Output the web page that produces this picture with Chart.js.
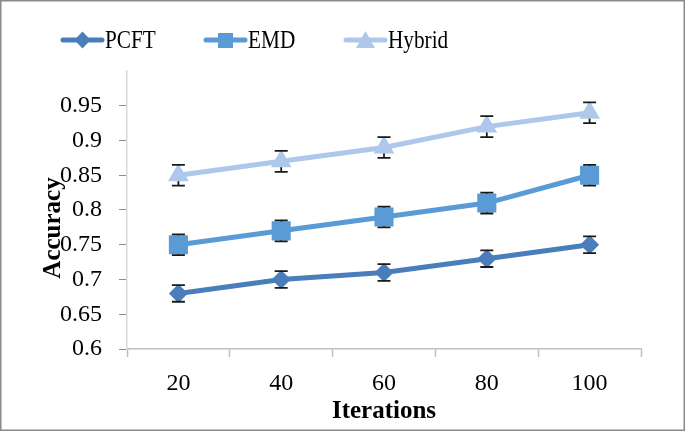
<!DOCTYPE html>
<html>
<head>
<meta charset="utf-8">
<script src="https://cdn.jsdelivr.net/npm/chart.js@4/dist/chart.umd.min.js"></script>
<style>
  html, body { margin: 0; padding: 0; background: #fff; }
  #wrap { position: relative; width: 685px; height: 431px; }
  canvas { position: absolute; left: 0; top: 0; }
  .lg { position: absolute; top: 26px; height: 28px; display: flex; align-items: center;
        font-family: "Liberation Serif", "Times New Roman", serif; font-size: 25px; color: #000; }
  .lg span { display: inline-block; transform: scaleX(0.85); transform-origin: left center; }
</style>
</head>
<body>
<div id="wrap">
  <canvas id="c" width="685" height="431"></canvas>
  <div class="lg" style="left:60px"><svg width="45" height="26"><line x1="3" y1="13" x2="42" y2="13" stroke="#4A7EBB" stroke-width="5" stroke-linecap="round"/><polygon points="22.5,4.5 30.5,13 22.5,21.5 14.5,13" fill="#4A7EBB"/></svg><span>PCFT</span></div>
  <div class="lg" style="left:203px"><svg width="45" height="26"><line x1="3" y1="13" x2="42" y2="13" stroke="#5B9BD5" stroke-width="5" stroke-linecap="round"/><rect x="15" y="6" width="15" height="15" fill="#5B9BD5"/></svg><span>EMD</span></div>
  <div class="lg" style="left:343px"><svg width="45" height="26"><line x1="3" y1="13" x2="42" y2="13" stroke="#ADC8EA" stroke-width="5" stroke-linecap="round"/><polygon points="22.5,4 32,21 13,21" fill="#ADC8EA"/></svg><span>Hybrid</span></div>
</div>
<script>
const categories = ['20', '40', '60', '80', '100'];
const pcft   = [0.68, 0.70, 0.71, 0.73, 0.75];
const emd    = [0.75, 0.77, 0.79, 0.81, 0.85];
const hybrid = [0.85, 0.87, 0.89, 0.92, 0.94];
const pcftErr   = [0.012, 0.012, 0.012, 0.012, 0.012];
const emdErr    = [0.015, 0.015, 0.015, 0.015, 0.015];
const hybridErr = [0.015, 0.015, 0.015, 0.015, 0.015];

const FONT = '"Liberation Serif", "Times New Roman", serif';

const errorBars = {
  id: 'errorBars',
  drawBars(chart, part) {
    const ctx = chart.ctx;
    const y = chart.scales.y;
    chart.data.datasets.forEach((ds, i) => {
      const meta = chart.getDatasetMeta(i);
      meta.data.forEach((pt, j) => {
        const e = ds.errors[j];
        const yt = y.getPixelForValue(ds.data[j] + e);
        const yb = y.getPixelForValue(ds.data[j] - e);
        ctx.save();
        ctx.strokeStyle = '#1a1a1a';
        ctx.lineWidth = 1.8;
        ctx.beginPath();
        if (part === 'line') {
          ctx.moveTo(pt.x, yt); ctx.lineTo(pt.x, yb);
        } else {
          ctx.moveTo(pt.x - 6.5, yt); ctx.lineTo(pt.x + 6.5, yt);
          ctx.moveTo(pt.x - 6.5, yb); ctx.lineTo(pt.x + 6.5, yb);
        }
        ctx.stroke();
        ctx.restore();
      });
    });
  },
  beforeDatasetsDraw(chart) { this.drawBars(chart, 'line'); },
  afterDatasetsDraw(chart) { this.drawBars(chart, 'cap'); }
};

const frame = {
  id: 'frame',
  beforeDraw(chart) {
    const ctx = chart.ctx;
    ctx.save();
    ctx.fillStyle = '#fff';
    ctx.fillRect(0, 0, chart.width, chart.height);
    ctx.restore();
  },
  afterDraw(chart) {
    const ctx = chart.ctx;
    const a = chart.chartArea;
    ctx.save();
    ctx.strokeStyle = '#8a8a8a';
    ctx.lineWidth = 1.5;
    ctx.strokeRect(0.75, 0.75, chart.width - 1.5, chart.height - 1.5);
    ctx.fillStyle = '#000';
    ctx.font = 'bold 25px ' + FONT;
    ctx.textAlign = 'center';
    ctx.textBaseline = 'middle';
    ctx.translate(a.left - 73, a.top + 157);
    ctx.rotate(-Math.PI / 2);
    ctx.fillText('Accuracy', 0, 0);
    ctx.restore();
  }
};

new Chart(document.getElementById('c'), {
  type: 'line',
  data: {
    labels: categories,
    datasets: [
      { label: 'PCFT', data: pcft, errors: pcftErr, borderColor: '#4A7EBB', backgroundColor: '#4A7EBB',
        borderWidth: 5, pointStyle: 'rectRot', pointRadius: 9.5, pointBorderWidth: 0, tension: 0 },
      { label: 'EMD', data: emd, errors: emdErr, borderColor: '#5B9BD5', backgroundColor: '#5B9BD5',
        borderWidth: 5, pointStyle: 'rect', pointRadius: 13.5, pointBorderWidth: 0, tension: 0 },
      { label: 'Hybrid', data: hybrid, errors: hybridErr, borderColor: '#ADC8EA', backgroundColor: '#ADC8EA',
        borderWidth: 5, pointStyle: 'triangle', pointRadius: 12, pointBorderWidth: 0, tension: 0 }
    ]
  },
  options: {
    responsive: false,
    animation: false,
    devicePixelRatio: 1,
    layout: { padding: { top: 71, right: 44, left: 0, bottom: 0 } },
    plugins: { legend: { display: false }, tooltip: { enabled: false } },
    scales: {
      x: {
        type: 'category',
        offset: true,
        grid: { offset: true, drawOnChartArea: false, drawTicks: true, tickLength: 8, tickColor: '#bfbfbf', tickWidth: 1.5 },
        border: { color: '#bfbfbf', width: 1.5 },
        ticks: { color: '#000', font: { family: FONT, size: 24 }, padding: 12, maxRotation: 0 },
        title: { display: true, text: 'Iterations', color: '#000', font: { family: FONT, size: 25, weight: 'bold' }, padding: { top: 0, bottom: 4 } },
        afterFit(s) { s.height = 82; }
      },
      y: {
        min: 0.6, max: 1.0,
        grid: { drawOnChartArea: false, drawTicks: true, tickLength: 8,
                tickColor: (c) => (c.tick && c.tick.value > 0.999) ? 'rgba(0,0,0,0)' : '#8a8a8a' },
        border: { color: '#d9d9d9', width: 1.5 },
        ticks: { stepSize: 0.05, color: '#000', font: { family: FONT, size: 24 }, padding: 17,
                 callback: (v) => v > 0.999 ? '' : String(Number(v.toFixed(2))) },
        afterFit(s) { s.width = 127; }
      }
    }
  },
  plugins: [frame, errorBars]
});
</script>
</body>
</html>
